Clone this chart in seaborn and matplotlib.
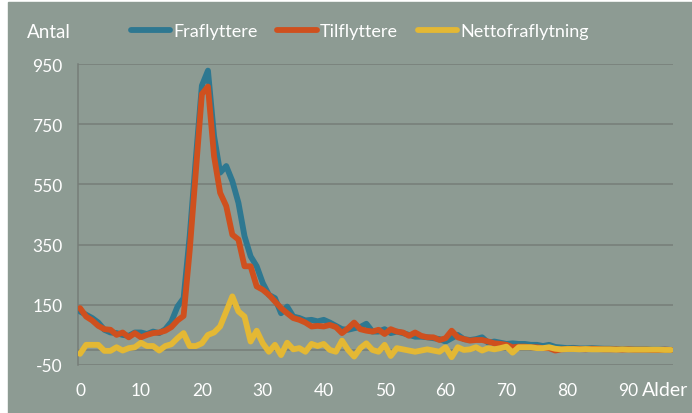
import numpy as np
import pandas as pd
import matplotlib
matplotlib.use("Agg")
import matplotlib.pyplot as plt
import seaborn as sns

# ages 0..97
alder = list(range(98))

fraflyttere = [
    128, 117, 106, 91, 67, 58, 56, 50, 47, 58,
    58, 53, 61, 56, 69, 94, 144, 172, 378, 633,
    878, 928, 711, 589, 611, 561, 489, 378, 311, 278,
    222, 183, 172, 122, 144, 111, 106, 98, 100, 95,
    100, 91, 80, 69, 67, 72, 76, 87, 61, 61,
    69, 56, 61, 56, 50, 44, 44, 42, 39, 36,
    28, 39, 50, 36, 33, 36, 42, 24, 28, 24,
    20, 22, 20, 20, 17, 17, 13, 17, 10, 8,
    6, 7, 5, 5, 6, 5, 4, 4, 3, 3,
    3, 2, 2, 2, 1, 1, 1, 0,
]

tilflyttere = [
    139, 111, 98, 80, 69, 67, 50, 58, 42, 56,
    42, 50, 56, 58, 64, 76, 98, 113, 330, 590,
    850, 875, 644, 522, 478, 383, 367, 278, 278, 211,
    200, 183, 161, 139, 122, 106, 100, 91, 78, 80,
    78, 83, 76, 56, 72, 91, 69, 64, 61, 67,
    53, 69, 61, 58, 47, 58, 47, 42, 42, 33,
    39, 64, 42, 36, 31, 33, 33, 28, 22, 20,
    17, 9, 11, 11, 9, 9, 6, 6, -2, 2,
    3, 4, 3, 2, 4, 3, 2, 2, 2, 1,
    2, 1, 1, 1, 0, 0, 1, 0,
]

netto = [
    -13, 17, 17, 17, -3, -3, 9, -2, 6, 9,
    24, 13, 13, -2, 13, 19, 39, 56, 13, 13,
    22, 50, 58, 78, 128, 178, 128, 111, 28, 64,
    22, -6, 17, -17, 24, 2, 6, -6, 20, 13,
    20, 0, -6, 31, 0, -22, 6, 22, 0, -6,
    17, -20, 6, 2, -2, -6, -2, 2, -2, -6,
    9, -24, 9, 0, 2, 9, -2, 6, 2, 6,
    11, -9, 9, 9, 9, 6, 6, 9, 4, 2,
    3, 3, 2, 3, 2, 2, 2, 2, 1, 2,
    1, 1, 1, 1, 1, 1, 0, 0,
]

serier = ["Fraflyttere", "Tilflyttere", "Nettofraflytning"]
farver = ["#2E7891", "#CF501E", "#E4B834"]
y_ticks = [-50, 150, 350, 550, 750, 950]
x_ticks = [0, 10, 20, 30, 40, 50, 60, 70, 80, 90]

df = pd.DataFrame({
    "Alder": alder * 3,
    "Antal": fraflyttere + tilflyttere + netto,
    "Serie": [serier[0]] * 98 + [serier[1]] * 98 + [serier[2]] * 98,
})

bg = "#8D9B93"
grid_col = "#767D78"
txt_col = "white"

plt.rcParams["font.family"] = ["Lato", "DejaVu Sans"]
plt.rcParams["axes.unicode_minus"] = False

fig = plt.figure(figsize=(6.92, 4.14), dpi=100, facecolor="white")
# grey chart area (leaves a thin white strip top and left)
fig.patches.append(plt.Rectangle((8 / 692, 0), 1, 1 - 3 / 414,
                                 transform=fig.transFigure, color=bg, zorder=-10))

ax = fig.add_axes([78 / 692, 1 - 366 / 414, 595 / 692, 301 / 414])
ax.set_facecolor(bg)

for yt in y_ticks[1:]:
    ax.axhline(yt, color=grid_col, lw=1.1, zorder=1)
ax.axhline(0, color=grid_col, lw=1.1, zorder=1)
ax.axhline(-50, color=grid_col, lw=1.1, zorder=1)

sns.lineplot(data=df, x="Alder", y="Antal", hue="Serie", hue_order=serier,
             palette=farver, linewidth=4.2, ax=ax, zorder=3,
             solid_capstyle="round", solid_joinstyle="round")

ax.set_xlim(-0.33, 97.33)
ax.set_ylim(-50, 950)
ax.set_yticks(y_ticks)
ax.set_xticks(x_ticks)
ax.tick_params(axis="both", length=0, colors=txt_col, labelsize=12.5)
ax.tick_params(axis="x", pad=12)
ax.tick_params(axis="y", pad=11)
ax.set_xlabel("")
ax.set_ylabel("")

for side in ["top", "right", "bottom"]:
    ax.spines[side].set_visible(False)
ax.spines["left"].set_color(grid_col)
ax.spines["left"].set_linewidth(1.1)

handles, labels = ax.get_legend_handles_labels()
ax.legend(handles, labels, loc="center", bbox_to_anchor=(0.5 * (127 + 592) / 692, 1 - 32 / 414),
          bbox_transform=fig.transFigure, ncol=3, frameon=False,
          fontsize=13, labelcolor=txt_col, handlelength=2.2, handletextpad=0.15,
          columnspacing=1.1)

fig.text(27 / 692, 1 - 32 / 414, "Antal", color=txt_col, fontsize=13.5,
         ha="left", va="center")
fig.text(642 / 692, 1 - 391 / 414, "Alder", color=txt_col, fontsize=14,
         ha="left", va="center")

fig.savefig("out.png", dpi=100, facecolor=fig.get_facecolor())
